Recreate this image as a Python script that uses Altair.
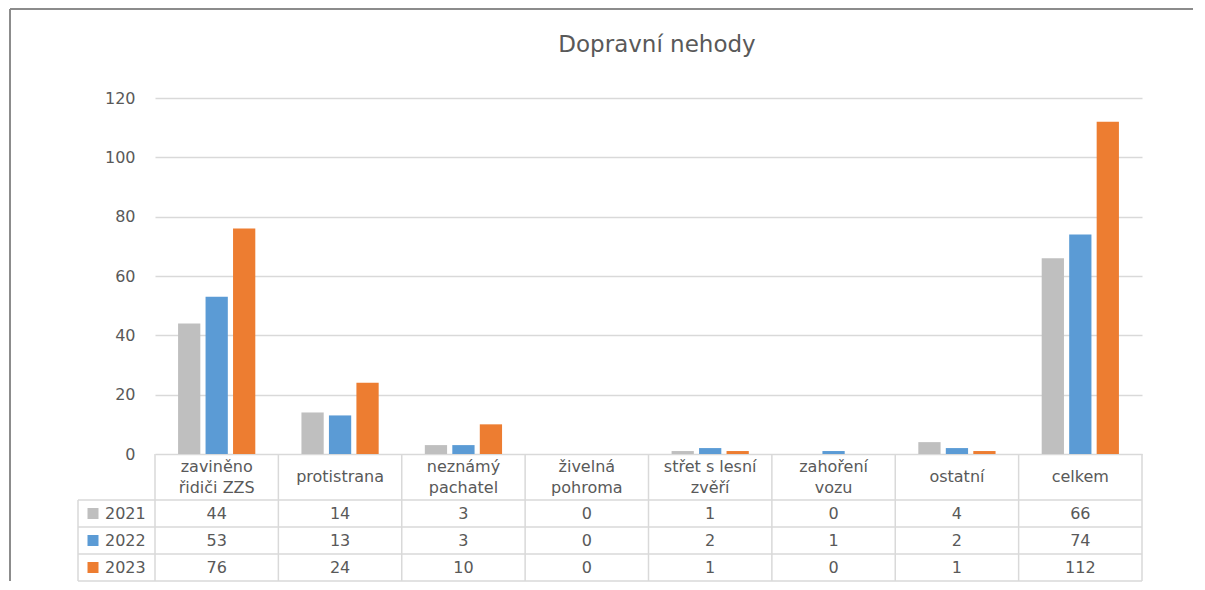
import altair as alt
import pandas as pd

categories = ["zaviněno\nřidiči ZZS", "protistrana", "neznámý\npachatel", "živelná\npohroma",
              "střet s lesní\nzvěří", "zahoření\nvozu", "ostatní", "celkem"]
years = ["2021", "2022", "2023"]
v2021 = [44, 14, 3, 0, 1, 0, 4, 66]
v2022 = [53, 13, 3, 0, 2, 1, 2, 74]
v2023 = [76, 24, 10, 0, 1, 0, 1, 112]
colors = ["#BFBFBF", "#5B9BD5", "#ED7D31"]
y_ticks = [0, 20, 40, 60, 80, 100, 120]
title_text = "Dopravní nehody"

rows = []
for yr, vals in zip(years, [v2021, v2022, v2023]):
    for c, v in zip(categories, vals):
        rows.append({"cat": c, "year": yr, "value": v})
df = pd.DataFrame(rows)
cat_df = pd.DataFrame({"cat": categories})
year_df = pd.DataFrame({"year": years})
one = pd.DataFrame({"k": [0]})

FONT = "DejaVu Sans"
TXT = "#595959"
GRID = "#D9D9D9"
FRAME = "#8C8C8C"
W = 987
H_BARS = 356
H_HDR = 46
H_BODY = 81

color_scale = alt.Scale(domain=years, range=colors)
x_bar_scale = alt.Scale(domain=categories, paddingInner=0.374, paddingOuter=0.187)
x_tab_scale = alt.Scale(domain=categories, paddingInner=0, paddingOuter=0)
y_row_scale = alt.Scale(domain=years, paddingInner=0, paddingOuter=0)

# ---------- bar chart ----------
bars = alt.Chart(df).mark_bar().encode(
    x=alt.X("cat:N", sort=categories, scale=x_bar_scale, axis=None),
    xOffset=alt.XOffset("year:N", sort=years, scale=alt.Scale(paddingInner=0.19, paddingOuter=0)),
    y=alt.Y("value:Q", scale=alt.Scale(domain=[0, 120]),
            axis=alt.Axis(values=y_ticks, grid=True, gridColor=GRID, gridWidth=1.5,
                          domain=False, ticks=False, labelPadding=20, labelFont=FONT,
                          labelFontSize=16, labelColor=TXT, title=None)),
    color=alt.Color("year:N", scale=color_scale, legend=None),
)
title = alt.Chart(one).mark_text(text=title_text, font=FONT, fontSize=23, color=TXT,
                                 align="center", baseline="alphabetic").encode(
    x=alt.value(502), y=alt.value(-46))
frame_left_top = alt.Chart(one).mark_rule(color=FRAME, strokeWidth=2).encode(
    x=alt.value(-145), y=alt.value(-89), y2=alt.value(H_BARS))
frame_top = alt.Chart(one).mark_rule(color=FRAME, strokeWidth=2).encode(
    x=alt.value(-145), x2=alt.value(1038), y=alt.value(-89))
top = alt.layer(bars, title, frame_left_top, frame_top).properties(width=W, height=H_BARS)

# ---------- header row ----------
x_hdr = alt.X("cat:N", sort=categories, scale=x_tab_scale, axis=None)
hdr_text1 = alt.Chart(cat_df).transform_filter("indexof(datum.cat, '\\n') < 0").mark_text(
    font=FONT, fontSize=16, color=TXT, baseline="middle").encode(
    x=x_hdr, y=alt.value(23), text="cat:N")
hdr_text2 = alt.Chart(cat_df).transform_filter("indexof(datum.cat, '\\n') >= 0").mark_text(
    font=FONT, fontSize=16, color=TXT, lineBreak="\n", lineHeight=21, baseline="middle").encode(
    x=x_hdr, y=alt.value(13), text="cat:N")
hdr_v = alt.Chart(cat_df).mark_rule(color=GRID, strokeWidth=1.5).encode(
    x=alt.X("cat:N", sort=categories, scale=x_tab_scale, axis=None, bandPosition=0),
    y=alt.value(0), y2=alt.value(H_HDR),
)
hdr_v_last = alt.Chart(cat_df).transform_filter(alt.datum.cat == categories[-1]).mark_rule(
    color=GRID, strokeWidth=1.5).encode(
    x=alt.X("cat:N", sort=categories, scale=x_tab_scale, axis=None, bandPosition=1),
    y=alt.value(0), y2=alt.value(H_HDR),
)
frame_left_hdr = alt.Chart(one).mark_rule(color=FRAME, strokeWidth=2).encode(
    x=alt.value(-145), y=alt.value(0), y2=alt.value(H_HDR))
header = alt.layer(hdr_text1, hdr_text2, hdr_v, hdr_v_last, frame_left_hdr).properties(
    width=W, height=H_HDR)

# ---------- body rows ----------
body_text = alt.Chart(df).mark_text(font=FONT, fontSize=16, color=TXT, baseline="middle").encode(
    x=alt.X("cat:N", sort=categories, scale=x_tab_scale, axis=None),
    y=alt.Y("year:N", sort=years, scale=y_row_scale, axis=None),
    text="value:Q",
)
body_h = alt.Chart(year_df).mark_rule(color=GRID, strokeWidth=1.5).encode(
    y=alt.Y("year:N", sort=years, scale=y_row_scale, axis=None, bandPosition=0),
    x=alt.value(-77), x2=alt.value(W),
)
body_h_last = alt.Chart(year_df).transform_filter(alt.datum.year == years[-1]).mark_rule(
    color=GRID, strokeWidth=1.5).encode(
    y=alt.Y("year:N", sort=years, scale=y_row_scale, axis=None, bandPosition=1),
    x=alt.value(-77), x2=alt.value(W),
)
body_v = alt.Chart(cat_df).mark_rule(color=GRID, strokeWidth=1.5).encode(
    x=alt.X("cat:N", sort=categories, scale=x_tab_scale, axis=None, bandPosition=0),
    y=alt.value(0), y2=alt.value(H_BODY),
)
body_v_last = alt.Chart(cat_df).transform_filter(alt.datum.cat == categories[-1]).mark_rule(
    color=GRID, strokeWidth=1.5).encode(
    x=alt.X("cat:N", sort=categories, scale=x_tab_scale, axis=None, bandPosition=1),
    y=alt.value(0), y2=alt.value(H_BODY),
)
body_v_left = alt.Chart(one).mark_rule(color=GRID, strokeWidth=1.5).encode(
    x=alt.value(-77), y=alt.value(0), y2=alt.value(H_BODY))
legend_sq = alt.Chart(year_df).mark_square(size=121, opacity=1, filled=True).encode(
    x=alt.value(-62),
    y=alt.Y("year:N", sort=years, scale=y_row_scale, axis=None),
    color=alt.Color("year:N", scale=color_scale, legend=None),
)
legend_txt = alt.Chart(year_df).mark_text(font=FONT, fontSize=16, color=TXT, align="left",
                                          baseline="middle").encode(
    x=alt.value(-50),
    y=alt.Y("year:N", sort=years, scale=y_row_scale, axis=None),
    text="year:N",
)
frame_left_body = alt.Chart(one).mark_rule(color=FRAME, strokeWidth=2).encode(
    x=alt.value(-145), y=alt.value(0), y2=alt.value(H_BODY))
body = alt.layer(body_text, body_h, body_h_last, body_v, body_v_last, body_v_left,
                 legend_sq, legend_txt, frame_left_body).properties(width=W, height=H_BODY)

chart = alt.vconcat(top, header, body, spacing=0, bounds="flush").properties(
    padding={"left": 1, "top": 0, "right": 0, "bottom": 0}
).configure_view(strokeWidth=0).configure_concat(spacing=0)

chart.save("out.html", embed_options={"renderer": "svg", "actions": False})
